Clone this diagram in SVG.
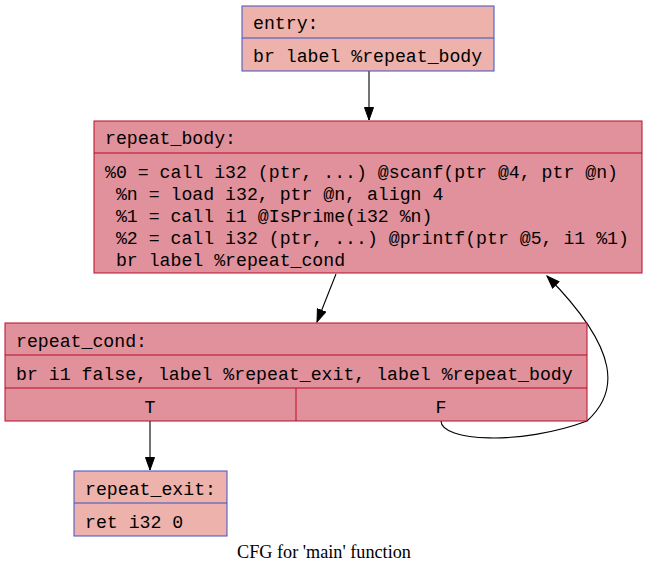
<svg xmlns="http://www.w3.org/2000/svg" width="649" height="575" viewBox="0 0 649 575">
<style>
.t{font-family:"Liberation Mono","DejaVu Sans Mono",monospace;font-size:18.2px;fill:#000;white-space:pre}
.hot{fill:#e0919b;stroke:#b70d28;stroke-width:1}
.cold{fill:#edb2ab;stroke:#3d50c3;stroke-width:1}
.e{fill:none;stroke:#000;stroke-width:1.1}
.cap{font-family:"Liberation Serif","Times New Roman",serif;font-size:18.2px;fill:#000}
</style>
<defs>
<marker id="ah" markerUnits="userSpaceOnUse" markerWidth="14" markerHeight="11" refX="13" refY="5" orient="auto">
<path d="M0.5,0.5 L13,5 L0.5,9.5 z" fill="#000" stroke="#000"/>
</marker>
</defs>
<rect width="649" height="575" fill="#fff"/>
<g id="edges">
<path class="e" d="M369,71 L369,120" marker-end="url(#ah)"/>
<path class="e" d="M336,274 L317,322" marker-end="url(#ah)"/>
<path class="e" d="M150,421 L150,470" marker-end="url(#ah)"/>
<path class="e" d="M441,421 C441,441 520,446 587,421 C618,393 622,352 547,276" marker-end="url(#ah)"/>
</g>
<g id="entry">
<rect class="cold" x="242" y="6" width="252" height="65"/>
<line class="cold" x1="242" y1="38" x2="494" y2="38"/>
<text class="t" x="253" y="29">entry:</text>
<text class="t" x="253" y="62">br label %repeat_body</text>
</g>
<g id="repeat_body">
<rect class="hot" x="94" y="121" width="548" height="152"/>
<line class="hot" x1="94" y1="153" x2="642" y2="153"/>
<text class="t" x="105" y="144">repeat_body:</text>
<text class="t" x="105" y="178">%0 = call i32 (ptr, ...) @scanf(ptr @4, ptr @n)</text>
<text class="t" x="105" y="200"> %n = load i32, ptr @n, align 4</text>
<text class="t" x="105" y="222"> %1 = call i1 @IsPrime(i32 %n)</text>
<text class="t" x="105" y="244"> %2 = call i32 (ptr, ...) @printf(ptr @5, i1 %1)</text>
<text class="t" x="105" y="266"> br label %repeat_cond</text>
</g>
<g id="repeat_cond">
<rect class="hot" x="5" y="323" width="582" height="98"/>
<line class="hot" x1="5" y1="355" x2="587" y2="355"/>
<line class="hot" x1="5" y1="388" x2="587" y2="388"/>
<line class="hot" x1="296" y1="388" x2="296" y2="421"/>
<text class="t" x="16" y="347">repeat_cond:</text>
<text class="t" x="16" y="380">br i1 false, label %repeat_exit, label %repeat_body</text>
<text class="t" x="150" y="413" text-anchor="middle">T</text>
<text class="t" x="441" y="413" text-anchor="middle">F</text>
</g>
<g id="repeat_exit">
<rect class="cold" x="74" y="471" width="153" height="65"/>
<line class="cold" x1="74" y1="503" x2="227" y2="503"/>
<text class="t" x="85" y="495">repeat_exit:</text>
<text class="t" x="85" y="528">ret i32 0</text>
</g>
<text class="cap" x="324" y="558" text-anchor="middle">CFG for 'main' function</text>
</svg>
